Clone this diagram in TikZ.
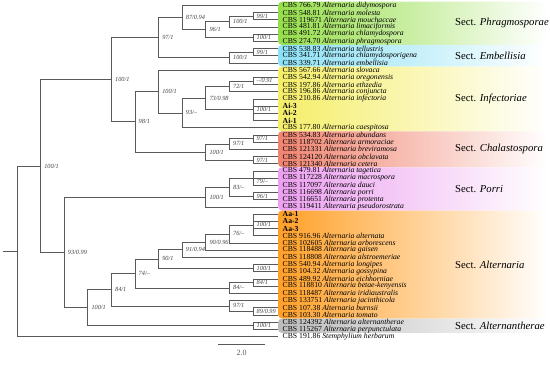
\documentclass[tikz,border=0pt]{standalone}
\usepackage{fontspec}
\setmainfont{Liberation Serif}
\usetikzlibrary{calc}
\definecolor{cphr}{RGB}{150,222,75}
\definecolor{cemb}{RGB}{140,225,245}
\definecolor{cinf}{RGB}{245,238,105}
\definecolor{ccha}{RGB}{240,132,112}
\definecolor{cpor}{RGB}{236,160,240}
\definecolor{calt}{RGB}{255,160,40}
\definecolor{cant}{RGB}{188,188,188}
\tikzset{
  br/.style={black!65, line width=0.7pt},
  bs/.style={anchor=west, xshift=2.5pt, inner sep=1pt, font=\fontsize{6.3}{7}\selectfont\itshape, text=black!75},
  leaf/.style={anchor=west, inner sep=0pt, font=\fontsize{7.7}{8}\selectfont},
  sect/.style={anchor=west, inner sep=0pt, font=\fontsize{10.7}{12}\selectfont},
  band/.style={rounded corners=4pt, right color=white},
}
% name, level, first child, last child, support
\newcommand\clade[5]{%
  \path let \p1=(#3), \p2=(#4) in coordinate (#1) at ({(17+23.6*#2)*1pt},{0.5*(\y1+\y2)});
  \draw[br] (#1) |- (#3);
  \draw[br] (#1) |- (#4);
  \node[bs] (#1l) at (#1) {#5};
}

\begin{document}
\begin{tikzpicture}[x=1pt,y=-1pt]
  \useasboundingbox (0,0) rectangle (550,367);

  % tips
  \foreach \i in {1,...,47}
    \coordinate (t\i) at (278,{5.3+7.2*(\i-1)});

  % sections
  \foreach \a/\b/\col/\sname in {1/6/cphr/Phragmosporae, 7/9/cemb/Embellisia,
      10/18/cinf/Infectoriae, 19/23/ccha/Chalastospora, 24/29/cpor/Porri,
      30/44/calt/Alternaria, 45/46/cant/Alternantherae} {
    \shade[band, left color=\col] ($(t\a)+(0,-3.6)$) rectangle ($(t\b)+(270,3.6)$);
    \node[sect] (s\a) at ($(t\a)!0.5!(t\b)+(177,0)$) {Sect. \textit{\sname}};
  }

  % taxa
  \foreach \i/\c/\s in {1/766.79/didymospora, 2/548.81/molesta, 3/119671/mouchaccae,
      4/481.81/limaciformis, 5/491.72/chlamydospora, 6/274.70/phragmospora,
      7/538.83/tellustris, 8/341.71/chlamydosporigena, 9/339.71/embellisia,
      10/567.66/slovaca, 11/542.94/oregonensis, 12/197.86/ethzedia,
      13/196.86/conjuncta, 14/210.86/infectoria, 18/177.80/caespitosa,
      19/534.83/abundans, 20/118702/armoraciae, 21/121331/breviramosa,
      22/124120/obclavata, 23/121340/cetera, 24/479.81/tagetica,
      25/117228/macrospora, 26/117097/dauci, 27/116698/porri,
      28/116651/protenta, 29/119411/pseudorostrata, 33/916.96/alternata,
      34/102605/arborescens, 35/118488/gaisen, 36/118808/alstroemeriae,
      37/540.94/longipes, 38/104.32/gossypina, 39/489.92/eichhorniae,
      40/118810/betae-kenyensis, 41/118487/iridiaustralis, 42/133751/jacinthicola,
      43/107.38/burnsii, 44/103.30/tomato, 45/124392/alternantherae,
      46/115267/perpunctulata}
    \node[leaf] (l\i) at ([xshift=4.5pt]t\i) {CBS \c\ \textit{Alternaria \s}};
  \foreach \i/\n in {15/Ai-3, 16/Ai-2, 17/Ai-1, 30/Aa-1, 31/Aa-2, 32/Aa-3}
    \node[leaf, font=\fontsize{7.7}{8}\selectfont\bfseries] (l\i) at ([xshift=4.5pt]t\i) {\n};
  \node[leaf] (l47) at ([xshift=4.5pt]t47) {CBS 191.86 \textit{Stemphylium herbarum}};

  % Phragmosporae + Embellisia
  \clade{p99}{10}{t2}{t3}{99/1}
  \clade{p100a}{9}{p99}{t4}{100/1}
  \clade{p100b}{10}{t5}{t6}{100/1}
  \clade{p96}{8}{p100a}{p100b}{96/1}
  \clade{p87}{7}{t1}{p96}{87/0.94}
  \clade{e99}{10}{t7}{t8}{99/1}
  \clade{e100}{9}{e99}{t9}{100/1}
  \clade{n97}{6}{p87}{e100}{97/1}
  % Infectoriae + Chalastospora
  \clade{i91}{10}{t11}{t12}{--/0.91}
  \clade{i72}{9}{i91}{t13}{72/1}
  \clade{i100}{10}{t14}{t17}{100/1}
  \draw[br] (i100) |- (t15);
  \draw[br] (i100) |- (t16);
  \clade{i73}{8}{i72}{i100}{73/0.98}
  \clade{i93}{7}{i73}{t18}{93/--}
  \clade{i100r}{6}{t10}{i93}{100/1}
  \clade{c97a}{10}{t19}{t20}{97/1}
  \clade{c97b}{9}{c97a}{t21}{97/1}
  \clade{c97c}{10}{t22}{t23}{97/1}
  \clade{c100}{8}{c97b}{c97c}{100/1}
  \clade{n98}{5}{i100r}{c100}{98/1}
  \clade{n100u}{4}{n97}{n98}{100/1}
  % Porri
  \clade{r79}{10}{t24}{t26}{}
  \draw[br] (r79) |- (t25);
  \node[bs, yshift=-3.6pt] (r79m) at (r79) {79/--};
  \clade{r96}{10}{t27}{t28}{96/1}
  \clade{r83}{9}{r79}{r96}{83/--}
  \clade{r100}{8}{r83}{t29}{100/1}
  % Alternaria + Alternantherae
  \clade{a100}{10}{t30}{t33}{100/1}
  \draw[br] (a100) |- (t31);
  \draw[br] (a100) |- (t32);
  \clade{a76}{9}{a100}{t34}{76/--}
  \clade{a90}{8}{a76}{t35}{90/0.96}
  \clade{a91}{7}{a90}{t36}{91/0.94}
  \clade{a100b}{10}{t37}{t38}{100/1}
  \clade{a90b}{6}{a91}{a100b}{90/1}
  \clade{a84a}{10}{t39}{t40}{84/1}
  \clade{a84b}{9}{a84a}{t41}{84/--}
  \clade{a74}{5}{a90b}{a84b}{74/--}
  \clade{a89}{10}{t43}{t44}{89/0.99}
  \clade{a97}{9}{t42}{a89}{97/1}
  \clade{a84}{4}{a74}{a97}{84/1}
  \clade{t100}{10}{t45}{t46}{100/1}
  \clade{n100l}{3}{a84}{t100}{100/1}
  % backbone
  \clade{n93}{2}{r100}{n100l}{93/0.99}
  \clade{n100i}{1}{n100u}{n93}{100/1}
  \clade{root}{0}{n100i}{t47}{}
  \coordinate (stub) at ([xshift=-14pt]root);
  \draw[br] (stub) -- (root);

  % scale
  \coordinate (sb1) at (218,344);
  \coordinate (sb2) at (265,344);
  \draw[br] (sb1) -- (sb2) node[midway, below=6pt, inner sep=0pt, font=\fontsize{8}{8}\selectfont] (sbl) {2.0};
\end{tikzpicture}
\end{document}
